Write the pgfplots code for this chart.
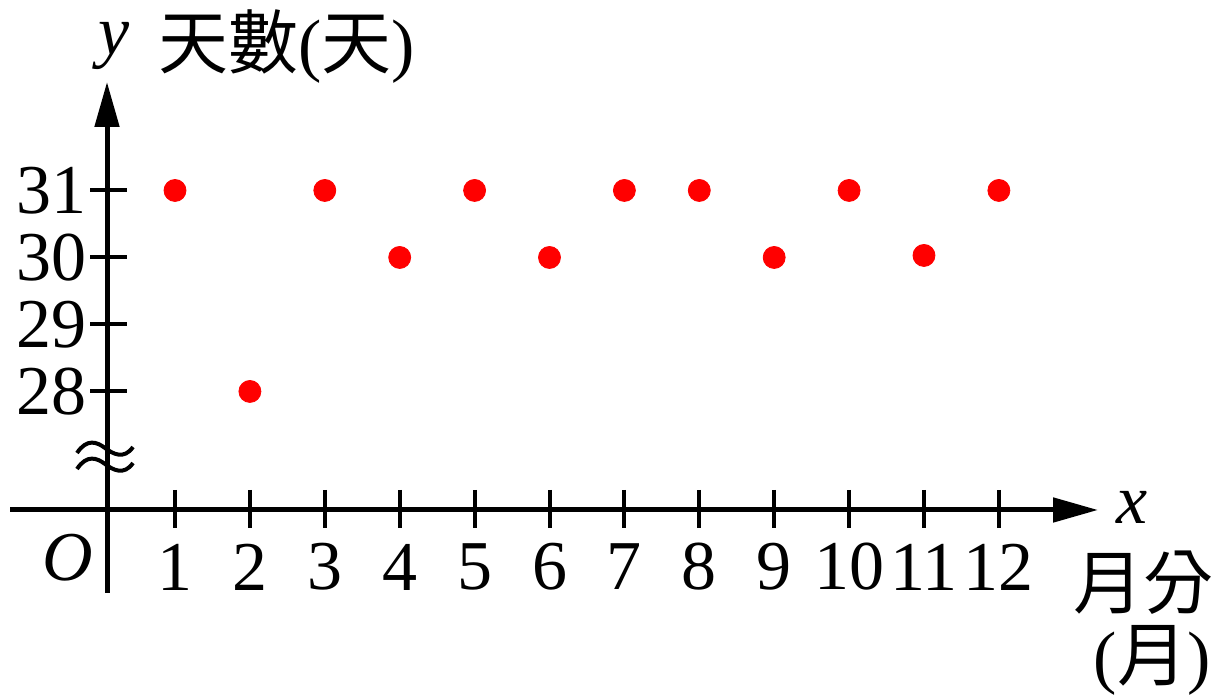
\documentclass[border=0pt]{standalone}
\usepackage{pgfplots}
\pgfplotsset{compat=1.18}
\usetikzlibrary{arrows.meta}
\usepackage{fontspec}
\setmainfont{Liberation Serif}
\newfontfamily\cjk{Noto Sans CJK TC}
\begin{document}
\begin{tikzpicture}
\begin{axis}[width=609.5pt,height=349pt,scale only axis,
  xmin=-1.3365,xmax=14.939,ymin=23.425,ymax=33.843,hide axis,clip=false]
\addplot[only marks,mark=*,mark size=5.5pt,color=red,fill=red] coordinates {
(1,31)(2,28)(3,31)(4,30)(5,31)(6,30)(7,31)(8,31)(9,30)(10,31)(11,30.03)(12,31)};
\coordinate (TL) at (rel axis cs:0,1);
\coordinate (BR) at (rel axis cs:1,0);
\end{axis}
\begin{scope}[shift={(TL)},x=0.5pt,y=-0.5pt,font=\fontsize{35}{40}\selectfont]
% axes
\draw[line width=2.5pt,-{Triangle[length=22.5pt,width=12pt]}] (10,510) -- (1098,510);
\draw[line width=2.5pt,-{Triangle[length=22.5pt,width=12pt]}] (107,593) -- (107,82);
% x ticks
\foreach \i in {1,...,12}{
  \draw[line width=2pt] ({100.1+74.9*\i},490) -- ({100.1+74.9*\i},528);
  \node[inner sep=0] at ({100.1+74.9*\i},567) {\i};
}
% y ticks
\foreach \v in {28,29,30,31}{
  \draw[line width=2pt] (90,{190.5+67*(31-\v)}) -- (127,{190.5+67*(31-\v)});
  \node[anchor=east,inner sep=0] at (87,{190.5+67*(31-\v)}) {\v};
}
% axis break
\foreach \d in {0,16}{
  \draw[line width=2pt] (77,{453+\d}) .. controls (87,{438+\d}) and (97,{442+\d}) .. (105,{448+\d})
     .. controls (113,{454+\d}) and (124,{460+\d}) .. (133,{447+\d});
}
% labels
\node[inner sep=0] at (68,558) {\textit{O}};
\node[inner sep=0,anchor=base] at (114,55) {\textit{y}};
\node[inner sep=0,anchor=west] at (158,47) {{\cjk 天數}({\cjk 天})};
\node[inner sep=0] at (1132,507) {\textit{x}};
\node[inner sep=0] at (1143,583) {\cjk 月分};
\node[inner sep=0] at (1152,660) {({\cjk 月})};
\end{scope}
\pgfresetboundingbox
\useasboundingbox (TL) rectangle (BR);
\end{tikzpicture}
\end{document}
